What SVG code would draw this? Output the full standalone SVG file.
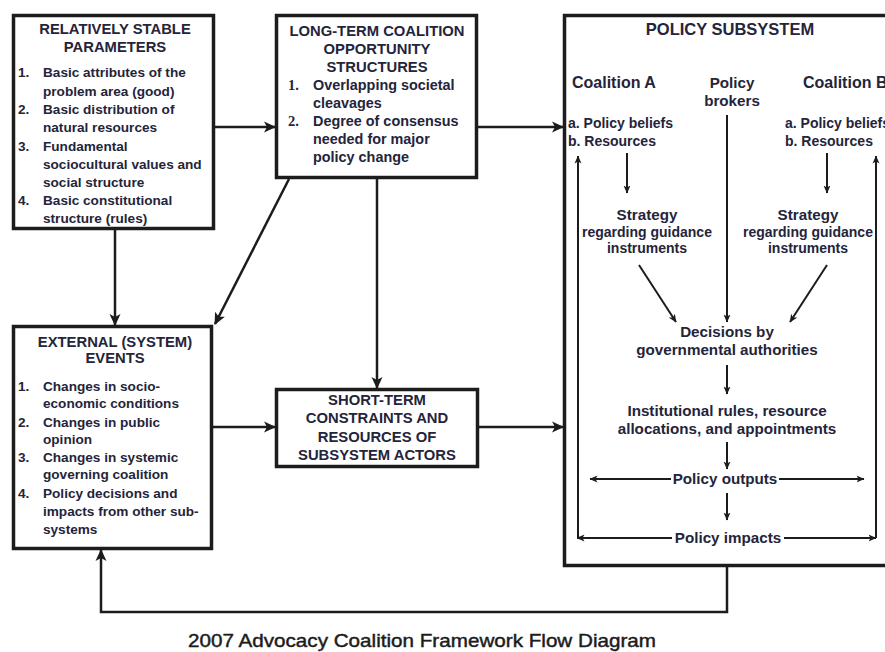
<svg xmlns="http://www.w3.org/2000/svg" width="885" height="652" viewBox="0 0 885 652">
<defs>
<marker id="ah" markerWidth="12" markerHeight="12" refX="11" refY="6" orient="auto" markerUnits="userSpaceOnUse">
<path d="M0,0.5 L12,6 L0,11.5 L3,6 Z" fill="#1c1c1c"/>
</marker>
<marker id="ahs" markerWidth="8" markerHeight="8" refX="7.5" refY="4" orient="auto" markerUnits="userSpaceOnUse">
<path d="M0,0.5 L8,4 L0,7.5 L2,4 Z" fill="#1c1c1c"/>
</marker>
</defs>
<style>
.box{fill:#fff;stroke:#1c1c1c;stroke-width:3.5}
.t{font-family:"Liberation Sans",Arial,sans-serif;font-weight:bold;fill:#24243a}
.h{font-size:14.8px;text-anchor:middle}
.i{font-size:13.6px}
.i2{font-size:14.4px}
.ab{font-size:14px}
.c{font-size:14px;text-anchor:middle}
.c2{font-size:15.2px;text-anchor:middle}
.num{font-family:"Liberation Serif","Times New Roman",serif;font-weight:bold;font-size:14.5px;fill:#24243a}
.ln{fill:none;stroke:#1c1c1c;stroke-width:2.5}
.sl{fill:none;stroke:#1c1c1c;stroke-width:2}
.ttl{font-family:"Liberation Sans",Arial,sans-serif;font-size:19px;fill:#1c1c1c;text-anchor:middle;stroke:#1c1c1c;stroke-width:0.45}
</style>
<rect width="885" height="652" fill="#fff"/>

<g id="connectors">
<line class="ln" x1="215" y1="127" x2="275" y2="127" marker-end="url(#ah)"/>
<line class="ln" x1="478" y1="127" x2="563" y2="127" marker-end="url(#ah)"/>
<line class="ln" x1="115" y1="230" x2="115" y2="325" marker-end="url(#ah)"/>
<line class="ln" x1="289" y1="179" x2="215" y2="324" marker-end="url(#ah)"/>
<line class="ln" x1="377" y1="179" x2="377" y2="388" marker-end="url(#ah)"/>
<line class="ln" x1="213" y1="427" x2="275" y2="427" marker-end="url(#ah)"/>
<line class="ln" x1="479" y1="427" x2="563" y2="427" marker-end="url(#ah)"/>
<polyline class="ln" points="727,567 727,612 101,612 101,550" marker-end="url(#ah)"/>
</g>

<g id="relatively-stable-parameters">
<rect class="box" x="13.5" y="15.5" width="200" height="213"/>
<text class="t h" x="115" y="34">RELATIVELY STABLE</text>
<text class="t h" x="115" y="52">PARAMETERS</text>
<text class="t i" x="18" y="77">1.</text><text class="t i" x="43" y="77">Basic attributes of the</text>
<text class="t i" x="43" y="96">problem area (good)</text>
<text class="t i" x="18" y="114">2.</text><text class="t i" x="43" y="114">Basic distribution of</text>
<text class="t i" x="43" y="132">natural resources</text>
<text class="t i" x="18" y="151">3.</text><text class="t i" x="43" y="151">Fundamental</text>
<text class="t i" x="43" y="169">sociocultural values and</text>
<text class="t i" x="43" y="187">social structure</text>
<text class="t i" x="18" y="205">4.</text><text class="t i" x="43" y="205">Basic constitutional</text>
<text class="t i" x="43" y="223">structure (rules)</text>
</g>

<g id="long-term-coalition-opportunity-structures">
<rect class="box" x="276.5" y="15.5" width="200" height="162"/>
<text class="t h" x="377" y="36" font-size="14.5">LONG-TERM COALITION</text>
<text class="t h" x="377" y="54">OPPORTUNITY</text>
<text class="t h" x="377" y="72">STRUCTURES</text>
<text class="num" x="288" y="90">1.</text><text class="t i2" x="313" y="90">Overlapping societal</text>
<text class="t i2" x="313" y="108">cleavages</text>
<text class="num" x="288" y="126">2.</text><text class="t i2" x="313" y="126">Degree of consensus</text>
<text class="t i2" x="313" y="144">needed for major</text>
<text class="t i2" x="313" y="162">policy change</text>
</g>

<g id="external-system-events">
<rect class="box" x="13.5" y="326.5" width="198" height="222"/>
<text class="t h" x="115" y="347">EXTERNAL (SYSTEM)</text>
<text class="t h" x="115" y="363">EVENTS</text>
<text class="t i" x="18" y="391">1.</text><text class="t i" x="43" y="391">Changes in socio-</text>
<text class="t i" x="43" y="408">economic conditions</text>
<text class="t i" x="18" y="427">2.</text><text class="t i" x="43" y="427">Changes in public</text>
<text class="t i" x="43" y="444">opinion</text>
<text class="t i" x="18" y="462">3.</text><text class="t i" x="43" y="462">Changes in systemic</text>
<text class="t i" x="43" y="479">governing coalition</text>
<text class="t i" x="18" y="498">4.</text><text class="t i" x="43" y="498">Policy decisions and</text>
<text class="t i" x="43" y="516">impacts from other sub-</text>
<text class="t i" x="43" y="534">systems</text>
</g>

<g id="short-term-constraints">
<rect class="box" x="276.5" y="389.5" width="201" height="77"/>
<text class="t h" x="377" y="405" font-size="15.4">SHORT-TERM</text>
<text class="t h" x="377" y="423" font-size="15.4">CONSTRAINTS AND</text>
<text class="t h" x="377" y="442" font-size="15.4">RESOURCES OF</text>
<text class="t h" x="377" y="460" font-size="15.4">SUBSYSTEM ACTORS</text>
</g>

<g id="policy-subsystem">
<rect class="box" x="564.5" y="15.5" width="340" height="550"/>
<text class="t" x="730" y="35" font-size="16.5" text-anchor="middle">POLICY SUBSYSTEM</text>
<text class="t" x="572" y="88" font-size="16">Coalition A</text>
<text class="t c2" x="732" y="88">Policy</text>
<text class="t c2" x="732" y="106">brokers</text>
<text class="t" x="803" y="88" font-size="16">Coalition B</text>
<text class="t ab" x="568" y="128">a. Policy beliefs</text>
<text class="t ab" x="568" y="146">b. Resources</text>
<text class="t ab" x="785" y="128">a. Policy beliefs</text>
<text class="t ab" x="785" y="146">b. Resources</text>
<text class="t c2" x="647" y="220">Strategy</text>
<text class="t c" x="647" y="237">regarding guidance</text>
<text class="t c" x="647" y="253">instruments</text>
<text class="t c2" x="808" y="220">Strategy</text>
<text class="t c" x="808" y="237">regarding guidance</text>
<text class="t c" x="808" y="253">instruments</text>
<text class="t c2" x="727" y="337">Decisions by</text>
<text class="t c2" x="727" y="355">governmental authorities</text>
<text class="t c2" x="727" y="416">Institutional rules, resource</text>
<text class="t c2" x="727" y="434">allocations, and appointments</text>
<text class="t c2" x="725" y="484">Policy outputs</text>
<text class="t c2" x="728" y="543">Policy impacts</text>
<g id="subsystem-arrows">
<line class="sl" x1="627" y1="153" x2="627" y2="193" marker-end="url(#ahs)"/>
<line class="sl" x1="827" y1="153" x2="827" y2="193" marker-end="url(#ahs)"/>
<line class="sl" x1="727" y1="115" x2="727" y2="322" marker-end="url(#ahs)"/>
<line class="sl" x1="639" y1="265" x2="676" y2="322" marker-end="url(#ahs)"/>
<line class="sl" x1="827" y1="265" x2="790" y2="322" marker-end="url(#ahs)"/>
<line class="sl" x1="727" y1="365" x2="727" y2="394" marker-end="url(#ahs)"/>
<line class="sl" x1="727" y1="442" x2="727" y2="469" marker-end="url(#ahs)"/>
<line class="sl" x1="671" y1="479" x2="590" y2="479" marker-end="url(#ahs)"/>
<line class="sl" x1="779" y1="479" x2="864" y2="479" marker-end="url(#ahs)"/>
<line class="sl" x1="727" y1="493" x2="727" y2="520" marker-end="url(#ahs)"/>
<line class="sl" x1="672" y1="538" x2="577" y2="538" marker-end="url(#ahs)"/>
<line class="sl" x1="784" y1="538" x2="876" y2="538" marker-end="url(#ahs)"/>
<line class="sl" x1="578" y1="538" x2="578" y2="156" marker-end="url(#ahs)"/>
<line class="sl" x1="876" y1="538" x2="876" y2="156" marker-end="url(#ahs)"/>
</g>
</g>

<text class="ttl" x="422" y="647" textLength="468" lengthAdjust="spacingAndGlyphs">2007 Advocacy Coalition Framework Flow Diagram</text>
</svg>
